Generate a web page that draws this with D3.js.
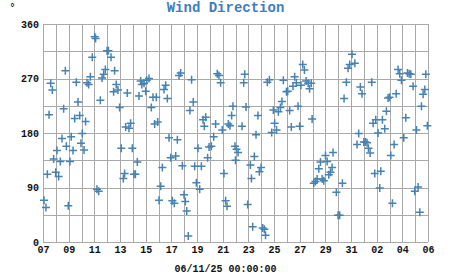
<!DOCTYPE html>
<html>
<head>
<meta charset="utf-8">
<script src="https://cdn.jsdelivr.net/npm/d3@7"></script>
<style>
  body { margin: 0; background: #fff; }
  svg text { font-family: "Liberation Mono", "DejaVu Sans Mono", monospace; font-weight: bold; }
</style>
</head>
<body>
<div id="chart"></div>
<script>
// Data: days since 07 May 2025 and wind direction (degrees)
const startDate = new Date(2025, 4, 7);
const dayOffsets = [
  0.08, 0.23, 0.34, 0.47, 0.6, 0.73, 0.83, 0.99, 1.09, 1.22, 1.35, 1.48, 1.61, 1.74, 1.82, 1.97,
  2.1, 2.2, 2.34, 2.47, 2.6, 2.73, 2.86, 2.96, 3.06, 3.2, 3.32, 3.43, 3.56, 3.69, 3.84, 4.03,
  4.1, 4.2, 4.34, 4.47, 4.6, 4.73, 4.86, 4.99, 5.1, 5.3, 5.5, 5.58, 5.71, 5.84, 5.97, 6.1,
  6.26, 6.36, 6.44, 6.57, 6.7, 6.83, 6.96, 7.09, 7.2, 7.35, 7.48, 7.61, 7.7,
  7.87, 8.0, 8.08, 8.26, 8.44, 8.57, 8.7, 8.83, 8.94, 9.04, 9.17, 9.3, 9.43, 9.56, 9.69, 9.82,
  9.95, 10.08, 10.23, 10.34, 10.47, 10.6, 10.73, 10.86, 10.99, 11.09, 11.2, 11.32, 11.45, 11.58,
  11.71, 11.82, 11.95, 12.08, 12.21, 12.34, 12.47, 12.57, 12.68, 12.83, 12.94, 13.12, 13.3, 13.45,
  13.58, 13.71, 13.84, 13.97, 14.1, 14.23, 14.34, 14.44, 14.57, 14.7, 14.8, 14.96, 15.0,
  15.08, 15.2, 15.51, 15.64, 15.72, 15.82, 15.95, 16.16, 16.24, 16.34, 16.47, 16.6, 16.75, 16.86,
  16.99, 17.12, 17.25, 17.34, 17.48, 17.64, 17.82, 17.95, 18.05, 18.2, 18.34, 18.5, 18.62, 18.73,
  18.97, 19.07, 19.22, 19.35, 19.48, 19.61, 19.74, 19.87, 20.0, 20.1, 20.24, 20.37, 20.5, 20.66,
  20.77, 20.9, 20.97, 21.1, 21.23, 21.36, 21.49, 21.62, 21.75, 21.88, 22.01, 22.14, 22.27, 22.4,
  22.53, 22.6,
  22.86, 22.99, 23.12, 23.33, 23.46, 23.64, 23.77, 23.9, 24.08, 24.3, 24.47, 24.6, 24.73, 24.86,
  25.0, 25.13, 25.25, 25.36, 25.49, 25.62, 25.72, 25.85, 25.93, 26.11, 26.24, 26.32, 26.45, 26.63,
  26.76, 26.89, 27.0, 27.1, 27.23, 27.36, 27.52, 27.67, 27.8, 27.93, 28.11, 28.27, 28.4, 28.53,
  28.66, 28.84, 28.97, 29.1, 29.23, 29.36, 29.49, 29.62, 29.75, 29.83, 29.95
];
const directions = [
  69, 57, 112, 210, 262, 251, 137, 115, 151, 108, 133, 171, 220, 283, 158, 60,
  133, 174, 151, 204, 264, 231, 209, 163, 179, 152, 199, 263, 260, 273, 305, 339,
  336, 87, 84, 234, 271, 277, 285, 316, 316, 305, 248, 283, 260, 251, 222, 155,
  105, 113, 190, 246, 188, 196, 155, 112, 112, 132, 241, 266, 260,
  262, 249, 267, 270, 222, 239, 195, 239, 198, 69, 92, 123, 252, 259, 237, 172,
  139, 68, 64, 142, 169, 275, 279, 126, 78, 67, 51, 10, 217, 268,
  231, 125, 98, 155, 87, 125, 202, 191, 206, 139, 157, 158, 174, 195,
  278, 275, 263, 185, 113, 68, 59, 195, 192, 209, 224, 158, 135,
  153, 148, 191, 263, 277, 223, 62, 127, 105, 25, 141, 177, 209, 116,
  123, 23, 21, 11, 264, 268, 181, 218, 196, 185, 215, 222, 232, 267,
  248, 249, 217, 190, 257, 273, 263, 224, 191, 259, 293, 284, 266, 262,
  253, 262, 203, 97, 100, 104, 121, 132, 104, 101, 143, 133, 111, 115,
  123, 148,
  82, 44, 44, 97, 237, 264, 287, 293, 310, 295, 161, 179, 256, 245,
  165, 165, 164, 155, 147, 264, 196, 113, 202, 180, 89, 117, 202, 187,
  216, 238, 239, 143, 64, 161, 245, 285, 278, 267, 172, 205, 279, 278,
  277, 257, 84, 185, 91, 49, 224, 244, 252, 277, 192
];
const yTickValues = [0, 90, 180, 270, 360];
const titleText = "Wind Direction";
const unitText = "°";
const footerText = "06/11/25 00:00:00";

const data = dayOffsets.map((d, i) => ({
  date: d3.timeMinute.offset(startDate, Math.round(d * 1440)),
  dir: directions[i]
}));

// Layout
const W = 451, H = 275;
const margin = { top: 24, right: 23, bottom: 33, left: 43 },
  width = W - margin.left - margin.right,
  height = H - margin.top - margin.bottom;

const svgRoot = d3.select("#chart").append("svg")
  .attr("width", W)
  .attr("height", H);

const svg = svgRoot.append("g")
  .attr("transform", `translate(${margin.left},${margin.top})`);

const endDate = d3.timeDay.offset(startDate, 30);
const x = d3.scaleTime().domain([startDate, endDate]).range([0, width]);
const y = d3.scaleLinear().domain([0, 360]).range([height, 0]);

const gridColor = "#a9a9a9";
const blue = "#4682b4";

// Grid: daily verticals, 45° horizontals
svg.append("g")
  .selectAll("line")
  .data(d3.timeDay.range(startDate, d3.timeDay.offset(endDate, 1)))
  .join("line")
  .attr("x1", d => Math.round(x(d)) + 0.5)
  .attr("x2", d => Math.round(x(d)) + 0.5)
  .attr("y1", 0)
  .attr("y2", height)
  .attr("stroke", gridColor);

svg.append("g")
  .selectAll("line")
  .data(d3.range(0, 361, 45))
  .join("line")
  .attr("x1", 0)
  .attr("x2", width)
  .attr("y1", d => Math.round(y(d)) + 0.5)
  .attr("y2", d => Math.round(y(d)) + 0.5)
  .attr("stroke", gridColor);

// Axes (labels only)
const yAxis = svg.append("g")
  .call(d3.axisLeft(y).tickValues(yTickValues).tickSize(0).tickPadding(4));
const xAxis = svg.append("g")
  .attr("transform", `translate(0,${height})`)
  .call(d3.axisBottom(x)
    .tickValues(d3.timeDay.range(startDate, d3.timeDay.offset(endDate, 1), 2))
    .tickFormat(d3.timeFormat("%d"))
    .tickSize(0).tickPadding(4));

[xAxis, yAxis].forEach(g => {
  g.select(".domain").remove();
  g.selectAll("text")
    .attr("fill", "#111")
    .style("font-size", "10px")
    .style("font-family", "'Liberation Mono', monospace")
    .style("font-weight", "bold");
});

// Points as "+" markers
svg.append("g")
  .selectAll("path")
  .data(data)
  .join("path")
  .attr("transform", d => `translate(${x(d.date)},${y(d.dir)})`)
  .attr("d", "M-4,0H4M0,-4V4")
  .attr("stroke", blue)
  .attr("stroke-width", 1.5)
  .attr("fill", "none");

// Title, unit and footer
svgRoot.append("text")
  .attr("x", W / 2)
  .attr("y", 11.5)
  .attr("text-anchor", "middle")
  .attr("fill", "#3d7fc0")
  .style("font-size", "14px")
  .text(titleText);

svgRoot.append("text")
  .attr("x", 12.5)
  .attr("y", 11)
  .attr("text-anchor", "middle")
  .attr("fill", "#222")
  .style("font-size", "10px")
  .text(unitText);

svgRoot.append("text")
  .attr("x", W / 2)
  .attr("y", 272)
  .attr("text-anchor", "middle")
  .attr("fill", "#111")
  .style("font-size", "10px")
  .text(footerText);
</script>
</body>
</html>
